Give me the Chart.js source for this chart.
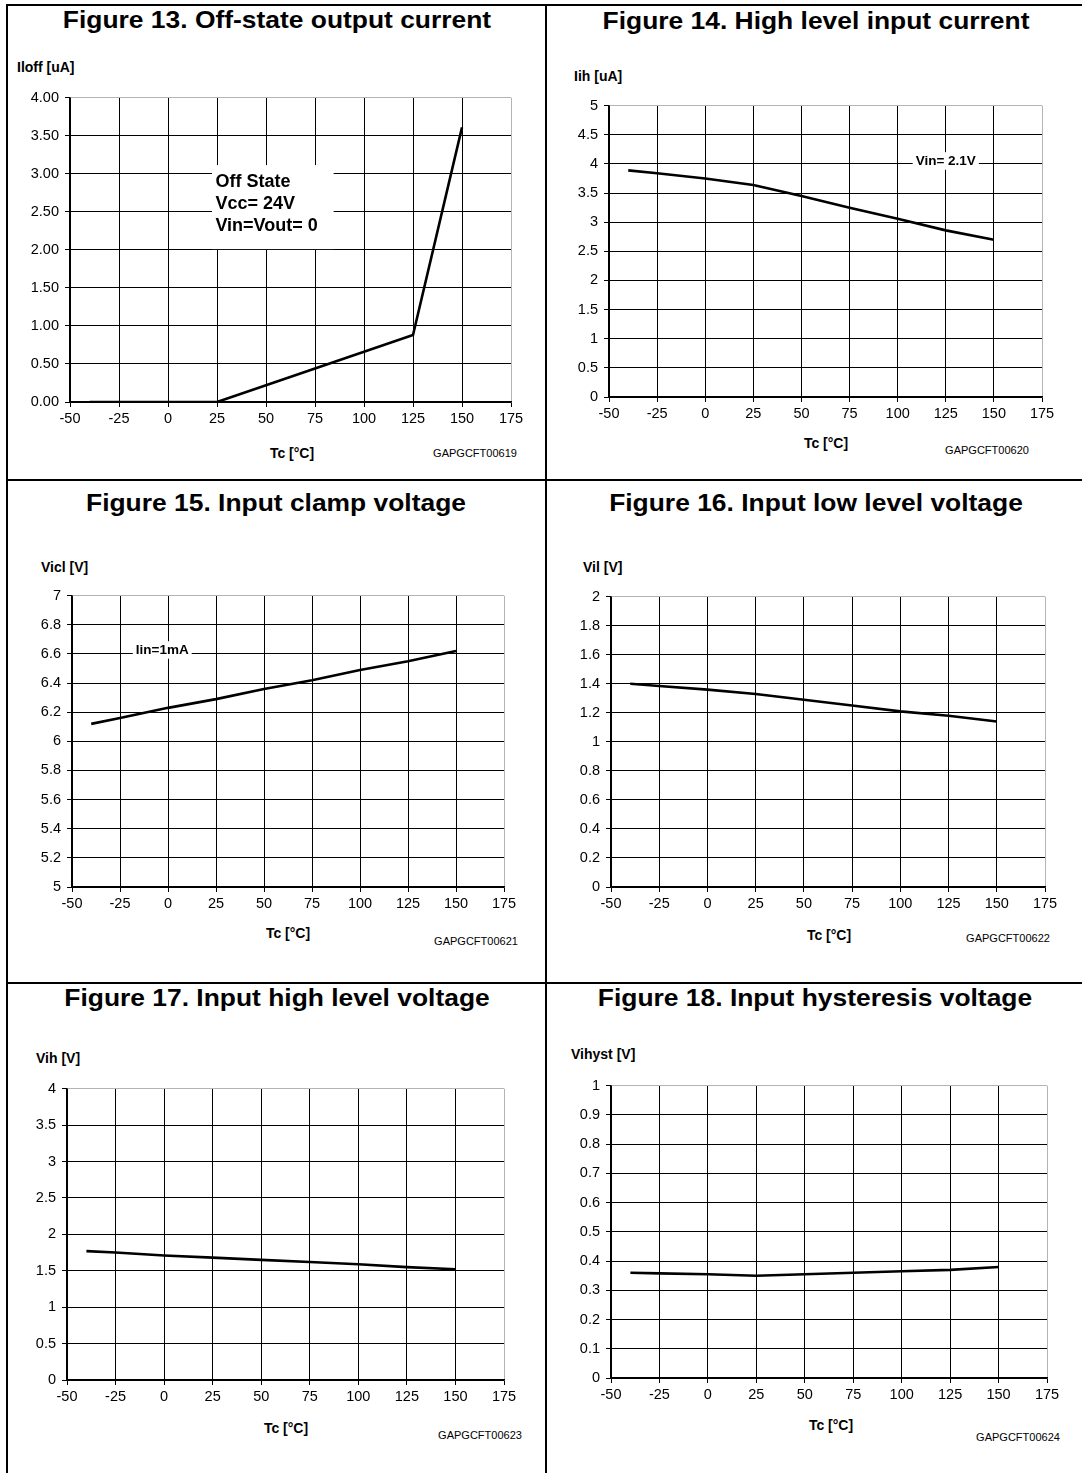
<!DOCTYPE html>
<html lang="en">
<head>
<meta charset="UTF-8">
<title>Figures 13-18</title>
<script src="https://cdn.jsdelivr.net/npm/chart.js"></script>
<style>
  body { margin:0; background:#fff; font-family:"Liberation Sans", Arial, sans-serif; color:#000; }
  #page { position:relative; width:1082px; height:1473px; overflow:hidden; }
  .rule { position:absolute; background:#000; }
  .title { position:absolute; font-weight:bold; font-size:24px; white-space:nowrap; transform:translate(-50%,-50%) scaleX(1.1); }
  .ylab { position:absolute; font-weight:bold; font-size:14px; white-space:nowrap; transform:translateY(-50%); }
  .xlab { position:absolute; font-weight:bold; font-size:14px; white-space:nowrap; transform:translate(-50%,-50%); }
  .code { position:absolute; font-size:11px; white-space:nowrap; transform:translate(-50%,-50%); }
  canvas { position:absolute; }
</style>
</head>
<body>
<div id="page">
  <div class="rule" style="left:6px;top:4px;width:2px;height:1469px"></div>
  <div class="rule" style="left:6px;top:4px;width:1076px;height:2px"></div>
  <div class="rule" style="left:545px;top:4px;width:2px;height:1469px"></div>
  <div class="rule" style="left:6px;top:479px;width:1076px;height:2px"></div>
  <div class="rule" style="left:6px;top:982px;width:1076px;height:2px"></div>
</div>

<script>
  // temperature points (Tc, °C) and x-axis ticks
  const tempC = [-40, -25, 0, 25, 50, 75, 100, 125, 150];
  const xTicks = [-50, -25, 0, 25, 50, 75, 100, 125, 150, 175];

  // measured curves
  const iloff  = [0, 0, 0, 0, 0.22, 0.44, 0.66, 0.88, 3.61];
  const iih    = [3.89, 3.84, 3.75, 3.64, 3.45, 3.25, 3.06, 2.86, 2.70];
  const vicl   = [6.12, 6.16, 6.23, 6.29, 6.36, 6.42, 6.49, 6.55, 6.62];
  const vil    = [1.40, 1.385, 1.36, 1.33, 1.29, 1.25, 1.21, 1.18, 1.14];
  const vih    = [1.77, 1.75, 1.71, 1.68, 1.65, 1.62, 1.59, 1.55, 1.52];
  const vihyst = [0.36, 0.358, 0.355, 0.35, 0.355, 0.36, 0.365, 0.37, 0.38];

  // y-axis tick labels
  const yTicks13 = ['0.00','0.50','1.00','1.50','2.00','2.50','3.00','3.50','4.00'];
  const yTicks14 = ['0','0.5','1','1.5','2','2.5','3','3.5','4','4.5','5'];
  const yTicks15 = ['5','5.2','5.4','5.6','5.8','6','6.2','6.4','6.6','6.8','7'];
  const yTicks16 = ['0','0.2','0.4','0.6','0.8','1','1.2','1.4','1.6','1.8','2'];
  const yTicks17 = ['0','0.5','1','1.5','2','2.5','3','3.5','4'];
  const yTicks18 = ['0','0.1','0.2','0.3','0.4','0.5','0.6','0.7','0.8','0.9','1'];

  const FONT = '"Liberation Sans", Arial, sans-serif';

  const panels = [
    { title:'Figure 13. Off-state output current', ylab:'Iloff [uA]', code:'GAPGCFT00619',
      values:iloff, yTicks:yTicks13, plot:[70, 511, 95, 402],
      tPos:[277, 20], yPos:[17, 67], xPos:[292, 453], cPos:[475, 453],
      notes:[{ box:[22.4, 84.5, 3.114, 2.01], lines:['Off State','Vcc= 24V','Vin=Vout= 0'], x:24.2, y:2.893, size:18, lh:22 }] },
    { title:'Figure 14. High level input current', ylab:'Iih [uA]', code:'GAPGCFT00620',
      values:iih, yTicks:yTicks14, plot:[609, 1042, 103, 397],
      tPos:[816, 21], yPos:[574, 76], xPos:[826, 443], cPos:[987, 450],
      notes:[{ lines:['Vin= 2.1V'], x:125, y:4, dy:-3, size:13.5, center:true }] },
    { title:'Figure 15. Input clamp voltage', ylab:'Vicl [V]', code:'GAPGCFT00621',
      values:vicl, yTicks:yTicks15, plot:[72, 504, 593, 887],
      tPos:[276, 503], yPos:[41, 567], xPos:[288, 933], cPos:[476, 941],
      notes:[{ lines:['Iin=1mA'], x:-3, y:6.6, dy:-4, size:13.5, center:true }] },
    { title:'Figure 16. Input low level voltage', ylab:'Vil [V]', code:'GAPGCFT00622',
      values:vil, yTicks:yTicks16, plot:[611, 1045, 594, 887],
      tPos:[816, 503], yPos:[583, 567], xPos:[829, 935], cPos:[1008, 938] },
    { title:'Figure 17. Input high level voltage', ylab:'Vih [V]', code:'GAPGCFT00623',
      values:vih, yTicks:yTicks17, plot:[67, 504, 1086, 1380],
      tPos:[277, 998], yPos:[36, 1058], xPos:[286, 1428], cPos:[480, 1435] },
    { title:'Figure 18. Input hysteresis voltage', ylab:'Vihyst [V]', code:'GAPGCFT00624',
      values:vihyst, yTicks:yTicks18, plot:[611, 1047, 1083, 1378],
      tPos:[815, 998], yPos:[571, 1054], xPos:[831, 1425], cPos:[1018, 1437] }
  ];

  // white-backed text labels placed in data coordinates
  const notesPlugin = {
    id: 'notes',
    beforeDatasetsDraw(chart, args, opts) {
      const { ctx, scales: { x, y } } = chart;
      (opts.items || []).forEach(n => {
        ctx.save();
        ctx.font = 'bold ' + n.size + 'px ' + FONT;
        ctx.fillStyle = '#fff';
        const px = x.getPixelForValue(n.x);
        const py = y.getPixelForValue(n.y) + (n.dy || 0);
        if (n.box) {
          const x0 = x.getPixelForValue(n.box[0]), x1 = x.getPixelForValue(n.box[1]);
          const y0 = y.getPixelForValue(n.box[2]), y1 = y.getPixelForValue(n.box[3]);
          ctx.fillRect(x0, y0, x1 - x0, y1 - y0);
        } else {
          const w = ctx.measureText(n.lines[0]).width + 6;
          const h = n.size * 1.3;
          ctx.fillRect(px - w / 2, py - h / 2, w, h);
        }
        ctx.fillStyle = '#000';
        ctx.textBaseline = 'middle';
        ctx.textAlign = n.center ? 'center' : 'left';
        n.lines.forEach((t, i) => ctx.fillText(t, px, py + i * (n.lh || 0)));
        ctx.restore();
      });
    }
  };

  const page = document.getElementById('page');

  function addText(cls, text, left, top) {
    const d = document.createElement('div');
    d.className = cls;
    d.textContent = text;
    d.style.left = left + 'px';
    d.style.top = top + 'px';
    page.appendChild(d);
  }

  function makeChart(p) {
    const padL = 60, padT = 12, padR = 24, axisH = 34;
    const w = p.plot[1] - p.plot[0] + padL + padR;
    const h = p.plot[3] - p.plot[2] + padT + axisH;
    const cv = document.createElement('canvas');
    cv.width = w; cv.height = h;
    cv.style.left = (p.plot[0] - padL) + 'px';
    cv.style.top = (p.plot[2] - padT) + 'px';
    cv.style.width = w + 'px'; cv.style.height = h + 'px';
    page.appendChild(cv);

    const yVals = p.yTicks.map(Number);
    const yMax = yVals[yVals.length - 1];

    new Chart(cv, {
      type: 'line',
      data: { datasets: [{
        data: tempC.map((t, i) => ({ x: t, y: p.values[i] })),
        borderColor: '#000', borderWidth: 2.6, pointRadius: 0, tension: 0, fill: false
      }] },
      options: {
        responsive: false, animation: false, events: [],
        layout: { padding: { left: 0, top: padT, right: padR, bottom: 0 } },
        plugins: { legend: { display: false }, tooltip: { enabled: false }, notes: { items: p.notes || [] } },
        scales: {
          x: {
            type: 'linear', min: -50, max: 175,
            afterBuildTicks: s => { s.ticks = xTicks.map(v => ({ value: v })); },
            afterFit: s => { s.height = axisH; },
            ticks: { font: { size: 14.5, family: FONT }, color: '#000', padding: 3, maxRotation: 0, autoSkip: false },
            grid: { color: c => (c.tick && c.tick.value === 175) ? '#b4b4b4' : '#000', lineWidth: 1, tickLength: 5, tickColor: '#000' },
            border: { color: '#000', width: 1.5 }
          },
          y: {
            min: yVals[0], max: yMax,
            afterBuildTicks: s => { s.ticks = yVals.map(v => ({ value: v })); },
            afterFit: s => { s.width = padL; },
            ticks: { font: { size: 14.5, family: FONT }, color: '#000', padding: 6, callback: (v, i) => p.yTicks[i] },
            grid: { color: c => (c.tick && c.tick.value === yMax) ? '#b4b4b4' : '#000', lineWidth: 1, tickLength: 5, tickColor: '#000' },
            border: { color: '#000', width: 1.5 }
          }
        }
      },
      plugins: [notesPlugin]
    });

    addText('title', p.title, p.tPos[0], p.tPos[1]);
    addText('ylab', p.ylab, p.yPos[0], p.yPos[1]);
    addText('xlab', 'Tc [°C]', p.xPos[0], p.xPos[1]);
    addText('code', p.code, p.cPos[0], p.cPos[1]);
  }

  panels.forEach(makeChart);
</script>
</body>
</html>
